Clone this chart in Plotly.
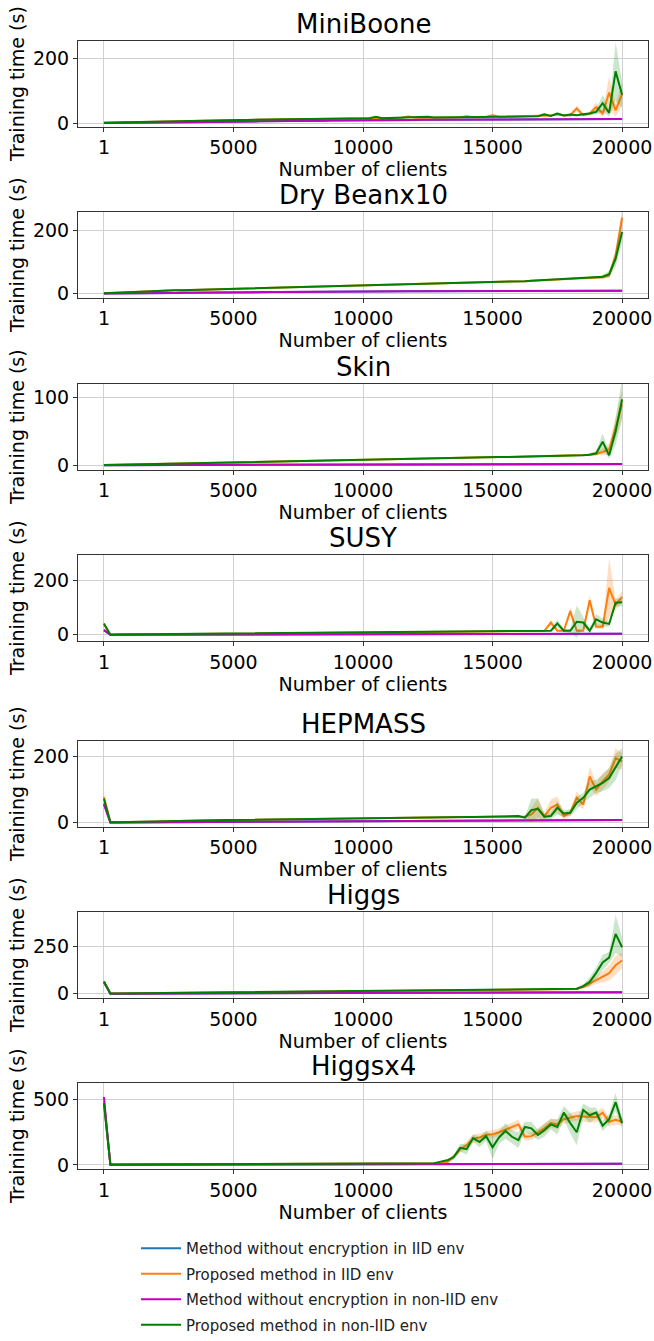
import numpy as np
import plotly.graph_objects as go

# x positions: number of clients
CLIENTS = [1] + list(range(250, 20001, 250))  # 81 points
X_TICKS = [1, 5000, 10000, 15000, 20000]
X_TICK_TEXT = ["1", "5000", "10000", "15000", "20000"]

# ---------------- MiniBoone ----------------
MB_IID_BASE = [
 1,1,1,1.5,1.5,2,2,2,2.5,
 2.5,3,3,3,3.5,3.5,4,4,4.5,
 4.5,5,5,5,5.5,5.5,6,6,6.5,
 6.5,7,7,7,7.5,7.5,8,8,8.5,
 8.5,9,9,9,9.5,9.5,10,10,10,
 10,10.5,10.5,10.5,11,11,11,11,11.5,
 11.5,11.5,11.5,12,12,12,12,12,12,
 12,12.5,12.5,12.5,12.5,12.5,12.5,13,13,
 13,13,13,13,13,13,13,13,13]
MB_IID_PROP = [
 2,2.5,3,3.5,4,4.5,5,5.5,6,
 6.5,7,7,7.5,8,8,8.5,9,9,
 9.5,10,10,10.5,10.5,11,11,11.5,11.5,
 12,12,12.5,12.5,13,13,13.5,13.5,14,
 14,14.5,15,15,15.5,16,16,16,16.5,
 17,17,21,17.5,17.5,18,18,18,18,
 18.5,18.5,22,19,19,19.5,25,20,20.5,
 21,21,21.5,21.5,22,22,24,28,24,
 25,46,25,30,50,30,95,40,90]
MB_IID_SD = [
 0.5,0.5,0.5,0.5,0.5,0.5,0.5,0.5,0.5,
 0.5,0.5,0.5,0.5,0.5,0.5,0.5,0.5,0.5,
 0.5,0.5,0.5,0.5,0.5,0.5,0.5,0.5,0.5,
 0.5,0.5,0.5,0.5,0.5,0.5,0.5,0.5,0.5,
 0.5,0.5,0.5,0.5,0.5,0.5,0.5,0.5,0.5,
 1,1,3,1,1,1,1,1,1,
 1,1,3,1,1,1,4,1,1,
 1,1,1,1,1,1,3,4,3,
 4,10,4,6,15,8,50,20,35]
MB_NON_BASE = [
 1,1,1,1.5,1.5,2,2,2,2.5,
 2.5,3,3,3,3.5,3.5,4,4,4.5,
 4.5,5,5,5,5.5,5.5,6,6,6.5,
 6.5,7,7,7,7.5,7.5,8,8,8.5,
 8.5,9,9,9,9.5,9.5,10,10,10,
 10,10.5,10.5,10.5,11,11,11,11,11.5,
 11.5,11.5,11.5,12,12,12,12,12,12,
 12,12.5,12.5,12.5,12.5,12.5,12.5,13,13,
 13,13,13,13,13,13,13,13,13]
MB_NON_PROP = [
 2,2.5,3,3.5,4,4.5,5,5.5,6,
 6.5,7,7,7.5,8,8,8.5,9,9,
 9.5,10,10,10.5,10.5,11,11,11.5,11.5,
 12,12,12.5,12.5,13,13,13.5,13.5,14,
 14,14.5,15,15,15.5,16,20,16,16.5,
 17,17,17,17.5,17.5,20,18,18,18,
 18.5,18.5,19,19,19,19.5,20,20,20.5,
 21,21,21.5,21.5,22,28,23,30,24,
 27,25,28,30,35,62,32,160,88]
MB_NON_SD = [
 0.5,0.5,0.5,0.5,0.5,0.5,0.5,0.5,0.5,
 0.5,0.5,0.5,0.5,0.5,0.5,0.5,0.5,0.5,
 0.5,0.5,0.5,0.5,0.5,0.5,0.5,0.5,0.5,
 0.5,0.5,0.5,0.5,0.5,0.5,0.5,0.5,0.5,
 1,1,1,1,1,1,3,1,1,
 1,1,1,1,1,3,1,1,1,
 1,1,1,1,1,1,1,1,1,
 1,1,1,1,1,4,2,4,2,
 3,3,4,4,8,25,12,90,40]

# ---------------- Dry Beanx10 ----------------
DB_IID_BASE = [
 1,1,1.5,1.5,2,2,2,2.5,2.5,
 3,3,3,3.5,3.5,3.5,4,4,4,
 4.5,4.5,4.5,5,5,5,5.5,5.5,5.5,
 6,6,6,6,6.5,6.5,6.5,6.5,7,
 7,7,7,7.5,7.5,7.5,7.5,8,8,
 8,8,8,8.5,8.5,8.5,8.5,8.5,9,
 9,9,9,9,9,9,9.5,9.5,9.5,
 9.5,9.5,9.5,10,10,10,10,10,10,
 10,10,10,10,10,10,10,10,10]
DB_IID_PROP = [
 2,3,4,5,6,7,8,9,9.5,
 10,10.5,11,11.5,12,12.5,13,13.5,14,
 14.5,15,15.5,16,16.5,17,17.5,18,18.5,
 19,19.5,20,20.5,21,21.5,22,22.5,23,
 23.5,24,24.5,25,25.5,26,26.5,27,27.5,
 28,28.5,29,29.5,30,30.5,31,31.5,32,
 32.5,33,33.5,34,35,36,37,37.5,38,
 38.5,39,40,41,42,43,44,45,46,
 48,49,49,50,51,52,58,120,240]
DB_IID_SD = [
 0.5,0.5,0.5,0.5,0.5,0.5,0.5,0.5,0.5,
 0.5,0.5,0.5,0.5,0.5,0.5,0.5,0.5,0.5,
 0.5,0.5,0.5,0.5,0.5,0.5,0.5,0.5,0.5,
 0.5,0.5,0.5,0.5,0.5,0.5,0.5,0.5,0.5,
 0.5,0.5,0.5,0.5,0.5,0.5,0.5,0.5,0.5,
 0.5,0.5,0.5,0.5,0.5,0.5,0.5,0.5,0.5,
 0.5,0.5,0.5,0.5,0.5,0.5,0.5,0.5,0.5,
 1,1,1,1,1,1,1,1,1,
 1,1,1,2,2,4,8,20,25]
DB_NON_BASE = [
 1,1,1.5,1.5,2,2,2,2.5,2.5,
 3,3,3,3.5,3.5,3.5,4,4,4,
 4.5,4.5,4.5,5,5,5,5.5,5.5,5.5,
 6,6,6,6,6.5,6.5,6.5,6.5,7,
 7,7,7,7.5,7.5,7.5,7.5,8,8,
 8,8,8,8.5,8.5,8.5,8.5,8.5,9,
 9,9,9,9,9,9,9.5,9.5,9.5,
 9.5,9.5,9.5,10,10,10,10,10,10,
 10,10,10,10,10,10,10,10,10]
DB_NON_PROP = [
 2,3,4,5,6,7,8,9,9.5,
 10,10.5,11,11.5,12,12.5,13,13.5,14,
 14.5,15,15.5,16,16.5,17,17.5,18,18.5,
 19,19.5,20,20.5,21,21.5,22,22.5,23,
 23.5,24,24.5,25,25.5,26,26.5,27,27.5,
 28,28.5,29,29.5,30,30.5,31,31.5,32,
 32.5,33,33.5,34,35,36,37,37.5,38,
 38.5,39,40,41,42,43,44,45,46,
 48,49,49,50,51,54,62,110,195]
DB_NON_SD = [
 0.5,0.5,0.5,0.5,0.5,0.5,0.5,0.5,0.5,
 0.5,0.5,0.5,0.5,0.5,0.5,0.5,0.5,0.5,
 0.5,0.5,0.5,0.5,0.5,0.5,0.5,0.5,0.5,
 0.5,0.5,0.5,0.5,0.5,0.5,0.5,0.5,0.5,
 0.5,0.5,0.5,0.5,0.5,0.5,0.5,0.5,0.5,
 0.5,0.5,0.5,0.5,0.5,0.5,0.5,0.5,0.5,
 0.5,0.5,0.5,0.5,0.5,0.5,0.5,0.5,0.5,
 1,1,1,1,1,1,1,1,1,
 1,1,1,2,3,6,10,25,35]

# ---------------- Skin ----------------
SK_IID_BASE = [
 0.5,0.5,0.5,0.6,0.6,0.6,0.7,0.7,0.7,
 0.8,0.8,0.8,0.9,0.9,0.9,1,1,1,
 1,1,1.1,1.1,1.1,1.1,1.2,1.2,1.2,
 1.2,1.3,1.3,1.3,1.3,1.4,1.4,1.4,1.4,
 1.5,1.5,1.5,1.5,1.6,1.6,1.6,1.6,1.7,
 1.7,1.7,1.7,1.8,1.8,1.8,1.8,1.9,1.9,
 1.9,1.9,2,2,2,2,2,2.1,2.1,
 2.1,2.1,2.1,2.2,2.2,2.2,2.2,2.2,2.3,
 2.3,2.3,2.3,2.3,2.4,2.4,2.4,2.4,2.5]
SK_IID_PROP = [
 1,1.2,1.4,1.6,1.8,2,2.2,2.4,2.6,
 2.8,3,3.2,3.4,3.6,3.8,4,4.2,4.4,
 4.6,4.8,5,5.2,5.4,5.6,5.8,6,6.2,
 6.4,6.6,6.8,7,7.2,7.4,7.6,7.8,8,
 8.2,8.4,8.6,8.8,9,9.2,9.4,9.6,9.8,
 10,10.2,10.4,10.5,10.6,10.8,11,11.2,11.4,
 11.5,11.6,11.8,12,12,12.2,12.4,12.5,12.6,
 12.8,13,13,13.2,13.4,13.6,13.8,14,14,
 14.5,15,15.5,16,17,20,24,55,90]
SK_IID_SD = [
 0.3,0.3,0.3,0.3,0.3,0.3,0.3,0.3,0.3,
 0.3,0.3,0.3,0.3,0.3,0.3,0.3,0.3,0.3,
 0.3,0.3,0.3,0.3,0.3,0.3,0.3,0.3,0.3,
 0.3,0.3,0.3,0.3,0.3,0.3,0.3,0.3,0.3,
 0.5,0.5,0.5,0.5,0.5,0.5,0.5,0.5,0.5,
 0.5,0.5,0.5,0.5,0.5,0.5,0.5,0.5,0.5,
 0.5,0.5,0.5,0.5,0.5,0.5,0.5,0.5,0.5,
 0.8,0.8,0.8,0.8,0.8,0.8,0.8,0.8,0.8,
 1,1,1,2,3,5,8,15,20]
SK_NON_BASE = [
 0.5,0.5,0.5,0.6,0.6,0.6,0.7,0.7,0.7,
 0.8,0.8,0.8,0.9,0.9,0.9,1,1,1,
 1,1,1.1,1.1,1.1,1.1,1.2,1.2,1.2,
 1.2,1.3,1.3,1.3,1.3,1.4,1.4,1.4,1.4,
 1.5,1.5,1.5,1.5,1.6,1.6,1.6,1.6,1.7,
 1.7,1.7,1.7,1.8,1.8,1.8,1.8,1.9,1.9,
 1.9,1.9,2,2,2,2,2,2.1,2.1,
 2.1,2.1,2.1,2.2,2.2,2.2,2.2,2.2,2.3,
 2.3,2.3,2.3,2.3,2.4,2.4,2.4,2.4,2.5]
SK_NON_PROP = [
 1,1.2,1.4,1.6,1.8,2,2.2,2.4,2.6,
 2.8,3,3.2,3.4,3.6,3.8,4,4.2,4.4,
 4.6,4.8,5,5.2,5.4,5.6,5.8,6,6.2,
 6.4,6.6,6.8,7,7.2,7.4,7.6,7.8,8,
 8.2,8.4,8.6,8.8,9,9.2,9.4,9.6,9.8,
 10,10.2,10.4,10.5,10.6,10.8,11,11.2,11.4,
 11.5,11.6,11.8,12,12,12.2,12.4,12.5,12.6,
 12.8,13,13,13.2,13.4,13.6,13.8,14,14,
 14.5,15,15,16,18,35,15,50,97]
SK_NON_SD = [
 0.3,0.3,0.3,0.3,0.3,0.3,0.3,0.3,0.3,
 0.3,0.3,0.3,0.3,0.3,0.3,0.3,0.3,0.3,
 0.3,0.3,0.3,0.3,0.3,0.3,0.3,0.3,0.3,
 0.3,0.3,0.3,0.3,0.3,0.3,0.3,0.3,0.3,
 0.5,0.5,0.5,0.5,0.5,0.5,0.5,0.5,0.5,
 0.5,0.5,0.5,0.5,0.5,0.5,0.5,0.5,0.5,
 0.5,0.5,0.5,0.5,0.5,0.5,0.5,0.5,0.5,
 0.8,0.8,0.8,0.8,0.8,0.8,0.8,0.8,0.8,
 1,1,1,2,3,12,5,20,30]

# ---------------- SUSY ----------------
SU_IID_BASE = [
 16,0.3,0.4,0.4,0.5,0.5,0.6,0.6,0.7,
 0.7,0.8,0.8,0.9,0.9,1,1,1.1,1.1,
 1.2,1.2,1.3,1.3,1.4,1.4,1.5,1.5,1.6,
 1.6,1.7,1.7,1.8,1.8,1.9,1.9,2,2,
 2,2.1,2.1,2.2,2.2,2.3,2.3,2.4,2.4,
 2.5,2.5,2.5,2.6,2.6,2.7,2.7,2.8,2.8,
 2.8,2.9,2.9,3,3,3,3.1,3.1,3.2,
 3.2,3.2,3.3,3.3,3.4,3.4,3.4,3.5,3.5,
 3.5,3.6,3.6,3.6,3.7,3.7,3.8,3.8,3.8]
SU_IID_PROP = [
 38,0.5,0.7,0.9,1.1,1.3,1.5,1.7,1.9,
 2.1,2.3,2.5,2.7,2.9,3.1,3.3,3.5,3.7,
 3.9,4.1,4.3,4.5,4.7,4.9,5.1,5.3,5.5,
 5.7,5.9,6.1,6.3,6.5,6.7,6.9,7.1,7.3,
 7.5,7.7,7.9,8.1,8.3,8.5,8.7,8.9,9.1,
 9.3,9.5,9.7,9.9,10.1,10.3,10.5,10.7,10.9,
 11.1,11.3,11.5,11.7,11.9,12.1,12.3,12.5,12.7,
 12.9,13.1,13.3,13.5,13.7,14,45,15,15,
 87,15,15,127,30,30,173,110,140]
SU_IID_SD = [
 4,0.5,0.5,0.5,0.5,0.5,0.5,0.5,0.5,
 0.5,0.5,0.5,0.5,0.5,0.5,0.5,0.5,0.5,
 0.5,0.5,0.5,0.5,0.5,0.5,0.5,0.5,0.5,
 0.5,0.5,0.5,0.5,0.5,0.5,0.5,0.5,0.5,
 0.5,0.5,0.5,0.5,0.5,0.5,0.5,0.5,0.5,
 0.5,0.5,0.5,0.5,0.5,0.5,0.5,0.5,0.5,
 0.5,0.5,0.5,0.5,0.5,0.5,0.5,0.5,0.5,
 0.5,0.5,0.5,0.5,0.5,1,10,3,3,
 15,5,5,20,8,8,110,20,20]
SU_NON_BASE = [
 18,0.3,0.4,0.4,0.5,0.5,0.6,0.6,0.7,
 0.7,0.8,0.8,0.9,0.9,1,1,1.1,1.1,
 1.2,1.2,1.3,1.3,1.4,1.4,1.5,1.5,1.6,
 1.6,1.7,1.7,1.8,1.8,1.9,1.9,2,2,
 2,2.1,2.1,2.2,2.2,2.3,2.3,2.4,2.4,
 2.5,2.5,2.5,2.6,2.6,2.7,2.7,2.8,2.8,
 2.8,2.9,2.9,3,3,3,3.1,3.1,3.2,
 3.2,3.2,3.3,3.3,3.4,3.4,3.4,3.5,3.5,
 3.5,3.6,3.6,3.6,3.7,3.7,3.8,3.8,3.8]
SU_NON_PROP = [
 42,0.5,0.7,0.9,1.1,1.3,1.5,1.7,1.9,
 2.1,2.3,2.5,2.7,2.9,3.1,3.3,3.5,3.7,
 3.9,4.1,4.3,4.5,4.7,4.9,5.1,5.3,5.5,
 5.7,5.9,6.1,6.3,6.5,6.7,6.9,7.1,7.3,
 7.5,7.7,7.9,8.1,8.3,8.5,8.7,8.9,9.1,
 9.3,9.5,9.7,9.9,10.1,10.3,10.5,10.7,10.9,
 11.1,11.3,11.5,11.7,11.9,12.1,12.3,12.5,12.7,
 12.9,13.1,13.3,13.5,13.7,14,15,42,15,
 15,48,45,15,57,45,40,118,120]
SU_NON_SD = [
 3,0.5,0.5,0.5,0.5,0.5,0.5,0.5,0.5,
 0.5,0.5,0.5,0.5,0.5,0.5,0.5,0.5,0.5,
 0.5,0.5,0.5,0.5,0.5,0.5,0.5,0.5,0.5,
 0.5,0.5,0.5,0.5,0.5,0.5,0.5,0.5,0.5,
 0.5,0.5,0.5,0.5,0.5,0.5,0.5,0.5,0.5,
 0.5,0.5,0.5,0.5,0.5,0.5,0.5,0.5,0.5,
 0.5,0.5,0.5,0.5,0.5,0.5,0.5,0.5,0.5,
 0.5,0.5,0.5,0.5,0.5,1,3,15,5,
 8,60,20,8,20,15,10,15,15]

# ---------------- HEPMASS ----------------
HE_IID_BASE = [
 58,0.3,0.4,0.5,0.6,0.7,0.8,0.9,1,
 1.1,1.2,1.3,1.4,1.5,1.6,1.7,1.8,1.9,
 2,2.1,2.2,2.3,2.4,2.5,2.6,2.7,2.8,
 2.9,3,3.1,3.2,3.3,3.4,3.5,3.6,3.7,
 3.8,3.9,4,4.1,4.2,4.3,4.4,4.5,4.6,
 4.7,4.8,4.9,5,5.1,5.2,5.3,5.4,5.5,
 5.6,5.7,5.8,5.9,6,6.1,6.2,6.3,6.4,
 6.5,6.6,6.7,6.8,6.9,7,7.1,7.2,7.3,
 7.4,7.5,7.6,7.7,7.8,7.9,8,8.1,8.2]
HE_IID_PROP = [
 78,1,1.5,2,2.5,3,3.5,4,4.5,
 5,5.3,5.6,5.9,6.2,6.5,6.8,7.1,7.4,
 7.7,8,8.3,8.6,8.9,9.2,9.5,9.8,10.1,
 10.4,10.7,11,11.3,11.6,11.9,12.2,12.5,12.8,
 13,13.2,13.4,13.6,13.8,14,14.2,14.4,14.6,
 14.8,15,15.2,15.4,15.6,15.8,16,16.2,16.4,
 16.6,16.8,17,17.2,17.4,17.6,17.8,18,18.2,
 18.4,17,18,25,45,20,45,55,20,
 30,75,55,140,100,125,145,195,185]
HE_IID_SD = [
 5,0.5,0.5,0.5,0.5,0.5,0.5,0.5,0.5,
 0.5,0.5,0.5,0.5,0.5,0.5,0.5,0.5,0.5,
 0.5,0.5,0.5,0.5,0.5,0.5,0.5,0.5,0.5,
 0.5,0.5,0.5,0.5,0.5,0.5,0.5,0.5,0.5,
 0.5,0.5,0.5,0.5,0.5,0.5,0.5,0.5,0.5,
 0.5,0.5,0.5,0.5,0.5,0.5,0.5,0.5,0.5,
 0.5,0.5,0.5,0.5,0.5,0.5,0.5,0.5,0.5,
 1,2,3,20,30,10,25,25,10,
 10,20,15,30,20,25,20,30,25]
HE_NON_BASE = [
 55,0.3,0.4,0.5,0.6,0.7,0.8,0.9,1,
 1.1,1.2,1.3,1.4,1.5,1.6,1.7,1.8,1.9,
 2,2.1,2.2,2.3,2.4,2.5,2.6,2.7,2.8,
 2.9,3,3.1,3.2,3.3,3.4,3.5,3.6,3.7,
 3.8,3.9,4,4.1,4.2,4.3,4.4,4.5,4.6,
 4.7,4.8,4.9,5,5.1,5.2,5.3,5.4,5.5,
 5.6,5.7,5.8,5.9,6,6.1,6.2,6.3,6.4,
 6.5,6.6,6.7,6.8,6.9,7,7.1,7.2,7.3,
 7.4,7.5,7.6,7.7,7.8,7.9,8,8.1,8.2]
HE_NON_PROP = [
 72,1,1.5,2,2.5,3,3.5,4,4.5,
 5,5.3,5.6,5.9,6.2,6.5,6.8,7.1,7.4,
 7.7,8,8.3,8.6,8.9,9.2,9.5,9.8,10.1,
 10.4,10.7,11,11.3,11.6,11.9,12.2,12.5,12.8,
 13,13.2,13.4,13.6,13.8,14,14.2,14.4,14.6,
 14.8,15,15.2,15.4,15.6,15.8,16,16.2,16.4,
 16.6,16.8,17,17.2,17.4,17.6,17.8,18,18.2,
 18.4,20,15,38,42,18,20,45,28,
 30,60,75,100,110,120,135,168,200]
HE_NON_SD = [
 4,0.5,0.5,0.5,0.5,0.5,0.5,0.5,0.5,
 0.5,0.5,0.5,0.5,0.5,0.5,0.5,0.5,0.5,
 0.5,0.5,0.5,0.5,0.5,0.5,0.5,0.5,0.5,
 0.5,0.5,0.5,0.5,0.5,0.5,0.5,0.5,0.5,
 0.5,0.5,0.5,0.5,0.5,0.5,0.5,0.5,0.5,
 0.5,0.5,0.5,0.5,0.5,0.5,0.5,0.5,0.5,
 0.5,0.5,0.5,0.5,0.5,0.5,0.5,0.5,0.5,
 1,3,3,35,30,10,10,20,10,
 10,20,15,25,20,25,30,40,25]

# ---------------- Higgs ----------------
HI_IID_BASE = [
 60,0.3,0.4,0.5,0.6,0.7,0.8,0.9,1,
 1.1,1.2,1.3,1.4,1.5,1.6,1.7,1.8,1.9,
 2,2.1,2.2,2.3,2.4,2.5,2.6,2.7,2.8,
 2.9,3,3.1,3.2,3.3,3.4,3.5,3.6,3.7,
 3.8,3.9,4,4.1,4.2,4.3,4.4,4.5,4.6,
 4.7,4.8,4.9,5,5.1,5.2,5.3,5.4,5.5,
 5.6,5.7,5.8,5.9,6,6.1,6.2,6.3,6.4,
 6.5,6.6,6.7,6.8,6.9,7,7.1,7.2,7.3,
 7.4,7.5,7.6,7.7,7.8,7.9,8,8.1,8.2]
HI_IID_PROP = [
 64,1,1.3,1.6,1.9,2.2,2.5,2.8,3.1,
 3.4,3.7,4,4.3,4.6,4.9,5.2,5.5,5.8,
 6.1,6.4,6.7,7,7.3,7.6,7.9,8.2,8.5,
 8.8,9.1,9.4,9.7,10,10.3,10.6,10.9,11.2,
 11.5,11.8,12.1,12.4,12.7,13,13.3,13.6,13.9,
 14.2,14.5,14.8,15.1,15.4,15.7,16,16.3,16.6,
 16.9,17.2,17.5,17.8,18.1,18.4,18.7,19,19.3,
 19.6,19.9,20.2,20.5,20.8,21.1,21.4,21.7,22,
 22,25,35,52,72,90,108,150,175]
HI_IID_SD = [
 3,0.5,0.5,0.5,0.5,0.5,0.5,0.5,0.5,
 0.5,0.5,0.5,0.5,0.5,0.5,0.5,0.5,0.5,
 0.5,0.5,0.5,0.5,0.5,0.5,0.5,0.5,0.5,
 0.5,0.5,0.5,0.5,0.5,0.5,0.5,0.5,0.5,
 0.5,0.5,0.5,0.5,0.5,0.5,0.5,0.5,0.5,
 0.5,0.5,0.5,0.5,0.5,0.5,0.5,0.5,0.5,
 0.5,0.5,0.5,0.5,0.5,0.5,0.5,0.5,0.5,
 1,1,1,1,1,1,1,1,1,
 3,5,8,15,20,30,40,50,40]
HI_NON_BASE = [
 62,0.3,0.4,0.5,0.6,0.7,0.8,0.9,1,
 1.1,1.2,1.3,1.4,1.5,1.6,1.7,1.8,1.9,
 2,2.1,2.2,2.3,2.4,2.5,2.6,2.7,2.8,
 2.9,3,3.1,3.2,3.3,3.4,3.5,3.6,3.7,
 3.8,3.9,4,4.1,4.2,4.3,4.4,4.5,4.6,
 4.7,4.8,4.9,5,5.1,5.2,5.3,5.4,5.5,
 5.6,5.7,5.8,5.9,6,6.1,6.2,6.3,6.4,
 6.5,6.6,6.7,6.8,6.9,7,7.1,7.2,7.3,
 7.4,7.5,7.6,7.7,7.8,7.9,8,8.1,8.2]
HI_NON_PROP = [
 65,1,1.3,1.6,1.9,2.2,2.5,2.8,3.1,
 3.4,3.7,4,4.3,4.6,4.9,5.2,5.5,5.8,
 6.1,6.4,6.7,7,7.3,7.6,7.9,8.2,8.5,
 8.8,9.1,9.4,9.7,10,10.3,10.6,10.9,11.2,
 11.5,11.8,12.1,12.4,12.7,13,13.3,13.6,13.9,
 14.2,14.5,14.8,15.1,15.4,15.7,16,16.3,16.6,
 16.9,17.2,17.5,17.8,18.1,18.4,18.7,19,19.3,
 19.6,19.9,20.2,20.5,20.8,21.1,21.4,21.7,22,
 23,26,40,62,110,165,190,315,245]
HI_NON_SD = [
 3,0.5,0.5,0.5,0.5,0.5,0.5,0.5,0.5,
 0.5,0.5,0.5,0.5,0.5,0.5,0.5,0.5,0.5,
 0.5,0.5,0.5,0.5,0.5,0.5,0.5,0.5,0.5,
 0.5,0.5,0.5,0.5,0.5,0.5,0.5,0.5,0.5,
 0.5,0.5,0.5,0.5,0.5,0.5,0.5,0.5,0.5,
 0.5,0.5,0.5,0.5,0.5,0.5,0.5,0.5,0.5,
 0.5,0.5,0.5,0.5,0.5,0.5,0.5,0.5,0.5,
 1,1,1,1,1,1,1,1,1,
 3,5,10,25,30,40,30,100,50]

# ---------------- Higgsx4 ----------------
H4_IID_BASE = [
 480,0.5,0.6,0.7,0.8,0.9,1,1.1,1.2,
 1.3,1.4,1.5,1.6,1.7,1.8,1.9,2,2.1,
 2.2,2.3,2.4,2.5,2.6,2.7,2.8,2.9,3,
 3.1,3.2,3.3,3.4,3.5,3.6,3.7,3.8,3.9,
 4,4.1,4.2,4.3,4.4,4.5,4.6,4.7,4.8,
 4.9,5,5.1,5.2,5.3,5.4,5.5,5.6,5.7,
 5.8,5.9,6,6.1,6.2,6.3,6.4,6.5,6.6,
 6.7,6.8,6.9,7,7.1,7.2,7.3,7.4,7.5,
 7.6,7.7,7.8,7.9,8,8.1,8.2,8.3,8.4]
H4_IID_PROP = [
 470,2,2.2,2.4,2.6,2.8,3,3.2,3.4,
 3.6,3.8,4,4.2,4.4,4.6,4.8,5,5.2,
 5.4,5.6,5.8,6,6.2,6.4,6.6,6.8,7,
 7.2,7.4,7.6,7.8,8,8.2,8.4,8.6,8.8,
 9,9.2,9.4,9.6,9.8,10,10.2,10.4,10.6,
 10.8,11,11.2,11.4,11.6,12,10,12,20,
 60,120,150,200,210,230,235,250,270,
 290,310,215,220,250,280,320,310,350,
 360,375,370,370,365,400,330,345,330]
H4_IID_SD = [
 10,0.5,0.5,0.5,0.5,0.5,0.5,0.5,0.5,
 0.5,0.5,0.5,0.5,0.5,0.5,0.5,0.5,0.5,
 0.5,0.5,0.5,0.5,0.5,0.5,0.5,0.5,0.5,
 0.5,0.5,0.5,0.5,0.5,0.5,0.5,0.5,0.5,
 0.5,0.5,0.5,0.5,0.5,0.5,0.5,0.5,0.5,
 0.5,0.5,0.5,0.5,0.5,0.5,1,2,5,
 15,25,30,30,30,30,30,30,30,
 30,35,30,30,30,35,35,35,35,
 35,35,40,40,40,40,35,35,30]
H4_NON_BASE = [
 520,0.5,0.6,0.7,0.8,0.9,1,1.1,1.2,
 1.3,1.4,1.5,1.6,1.7,1.8,1.9,2,2.1,
 2.2,2.3,2.4,2.5,2.6,2.7,2.8,2.9,3,
 3.1,3.2,3.3,3.4,3.5,3.6,3.7,3.8,3.9,
 4,4.1,4.2,4.3,4.4,4.5,4.6,4.7,4.8,
 4.9,5,5.1,5.2,5.3,5.4,5.5,5.6,5.7,
 5.8,5.9,6,6.1,6.2,6.3,6.4,6.5,6.6,
 6.7,6.8,6.9,7,7.1,7.2,7.3,7.4,7.5,
 7.6,7.7,7.8,7.9,8,8.1,8.2,8.3,8.4]
H4_NON_PROP = [
 470,2,2.2,2.4,2.6,2.8,3,3.2,3.4,
 3.6,3.8,4,4.2,4.4,4.6,4.8,5,5.2,
 5.4,5.6,5.8,6,6.2,6.4,6.6,6.8,7,
 7.2,7.4,7.6,7.8,8,8.2,8.4,8.6,8.8,
 9,9.2,9.4,9.6,9.8,10,10.2,10.4,10.6,
 10.8,11,11.2,11.4,11.6,12,12,25,35,
 60,130,120,205,175,220,135,210,260,
 215,190,290,280,230,265,310,290,400,
 320,250,420,380,400,300,350,480,320]
H4_NON_SD = [
 10,0.5,0.5,0.5,0.5,0.5,0.5,0.5,0.5,
 0.5,0.5,0.5,0.5,0.5,0.5,0.5,0.5,0.5,
 0.5,0.5,0.5,0.5,0.5,0.5,0.5,0.5,0.5,
 0.5,0.5,0.5,0.5,0.5,0.5,0.5,0.5,0.5,
 0.5,0.5,0.5,0.5,0.5,0.5,0.5,0.5,0.5,
 0.5,0.5,0.5,0.5,0.5,0.5,1,5,8,
 20,30,40,30,40,40,90,50,60,
 50,60,40,50,40,50,40,60,50,
 80,100,50,60,40,40,40,70,40]

TITLES = ["MiniBoone", "Dry Beanx10", "Skin", "SUSY", "HEPMASS", "Higgs", "Higgsx4"]
Y_RANGES = [[-10, 255], [-12, 259], [-6, 120], [-22, 295], [-12, 248], [-21, 432], [-30, 629]]
Y_TICKS = [[0, 200], [0, 200], [0, 100], [0, 200], [0, 200], [0, 250], [0, 500]]
DATA = [
    (MB_IID_BASE, MB_IID_PROP, MB_IID_SD, MB_NON_BASE, MB_NON_PROP, MB_NON_SD),
    (DB_IID_BASE, DB_IID_PROP, DB_IID_SD, DB_NON_BASE, DB_NON_PROP, DB_NON_SD),
    (SK_IID_BASE, SK_IID_PROP, SK_IID_SD, SK_NON_BASE, SK_NON_PROP, SK_NON_SD),
    (SU_IID_BASE, SU_IID_PROP, SU_IID_SD, SU_NON_BASE, SU_NON_PROP, SU_NON_SD),
    (HE_IID_BASE, HE_IID_PROP, HE_IID_SD, HE_NON_BASE, HE_NON_PROP, HE_NON_SD),
    (HI_IID_BASE, HI_IID_PROP, HI_IID_SD, HI_NON_BASE, HI_NON_PROP, HI_NON_SD),
    (H4_IID_BASE, H4_IID_PROP, H4_IID_SD, H4_NON_BASE, H4_NON_PROP, H4_NON_SD),
]
SERIES_NAMES = ["Method without encryption in IID env", "Proposed method in IID env",
                "Method without encryption in non-IID env", "Proposed method in non-IID env"]

for d in DATA:
    for arr in d:
        assert len(arr) == len(CLIENTS), len(arr)

W, H = 654, 1341
FONT = "DejaVu Sans"
BLUE, ORANGE, MAGENTA, GREEN = "#1f77b4", "#ff7f0e", "#bf00bf", "#008000"
FILL_ORANGE = "rgba(255,127,14,0.25)"
FILL_GREEN = "rgba(0,128,0,0.2)"

BOX_LEFT, BOX_RIGHT = 78, 648
BOX_TOPS = [41, 214, 388, 561, 749, 922, 1095]
BOX_H = 87

fig = go.Figure()
layout = {}
annotations = []


def band(fig, xs, mean, sd, fillc, xa, ya):
    m = np.array(mean, dtype=float)
    s = np.array(sd, dtype=float)
    fig.add_trace(go.Scatter(x=xs, y=m + s, mode="lines", line=dict(width=0),
                             showlegend=False, hoverinfo="skip", xaxis=xa, yaxis=ya))
    fig.add_trace(go.Scatter(x=xs, y=m - s, mode="lines", line=dict(width=0),
                             fill="tonexty", fillcolor=fillc, showlegend=False,
                             hoverinfo="skip", xaxis=xa, yaxis=ya))


for i, (title, d) in enumerate(zip(TITLES, DATA)):
    sfx = "" if i == 0 else str(i + 1)
    xa, ya = "x" + sfx, "y" + sfx
    iid_base, iid_prop, iid_sd, non_base, non_prop, non_sd = d
    first = i == 0
    fig.add_trace(go.Scatter(x=CLIENTS, y=iid_base, mode="lines", line=dict(color=BLUE, width=2),
                             name=SERIES_NAMES[0], legend="legend", legendgroup="a",
                             showlegend=first, xaxis=xa, yaxis=ya))
    band(fig, CLIENTS, iid_prop, iid_sd, FILL_ORANGE, xa, ya)
    fig.add_trace(go.Scatter(x=CLIENTS, y=iid_prop, mode="lines", line=dict(color=ORANGE, width=2),
                             name=SERIES_NAMES[1], legend="legend", legendgroup="b",
                             showlegend=first, xaxis=xa, yaxis=ya))
    fig.add_trace(go.Scatter(x=CLIENTS, y=non_base, mode="lines", line=dict(color=MAGENTA, width=2),
                             name=SERIES_NAMES[2], legend="legend2", legendgroup="c",
                             showlegend=first, xaxis=xa, yaxis=ya))
    band(fig, CLIENTS, non_prop, non_sd, FILL_GREEN, xa, ya)
    fig.add_trace(go.Scatter(x=CLIENTS, y=non_prop, mode="lines", line=dict(color=GREEN, width=2),
                             name=SERIES_NAMES[3], legend="legend2", legendgroup="d",
                             showlegend=first, xaxis=xa, yaxis=ya))

    top = BOX_TOPS[i]
    ydom = [1 - (top + BOX_H) / H, 1 - top / H]
    common = dict(showline=True, mirror=True, linecolor="#333333", linewidth=1,
                  showgrid=True, gridcolor="#d0d0d0", gridwidth=1, zeroline=False,
                  ticks="outside", ticklen=4, tickcolor="#333333",
                  tickfont=dict(family=FONT, size=19, color="black"), automargin=False)
    layout["xaxis" + sfx] = dict(domain=[BOX_LEFT / W, BOX_RIGHT / W], anchor=ya,
                                 range=[-1000, 21000], tickmode="array",
                                 tickvals=X_TICKS, ticktext=X_TICK_TEXT,
                                 title=dict(text="Number of clients", standoff=1,
                                            font=dict(family=FONT, size=19, color="black")),
                                 **common)
    layout["yaxis" + sfx] = dict(domain=ydom, anchor=xa, range=Y_RANGES[i],
                                 tickmode="array", tickvals=Y_TICKS[i],
                                 title=dict(text="Training time (s)", standoff=3,
                                            font=dict(family=FONT, size=19, color="black")),
                                 **common)
    cx = (BOX_LEFT + BOX_RIGHT) / 2 / W
    annotations.append(dict(text=title, x=cx, y=1 - (top - 17) / H,
                            xref="paper", yref="paper", xanchor="center", yanchor="middle",
                            showarrow=False, font=dict(family=FONT, size=26, color="black")))

leg_common = dict(font=dict(family=FONT, size=15, color="#222222"), bgcolor="rgba(0,0,0,0)",
                  xanchor="left", yanchor="top", tracegroupgap=3, orientation="v",
                  itemwidth=40)
fig.update_layout(
    width=W, height=H, autosize=False,
    margin=dict(l=0, r=0, t=0, b=0),
    paper_bgcolor="white", plot_bgcolor="white",
    font=dict(family=FONT, size=16, color="black"),
    annotations=annotations,
    legend=dict(x=136 / W, y=1 - 1246 / H, **leg_common),
    legend2=dict(x=136 / W, y=1 - 1298 / H, **leg_common),
    **layout,
)

fig.write_html("out.html")
